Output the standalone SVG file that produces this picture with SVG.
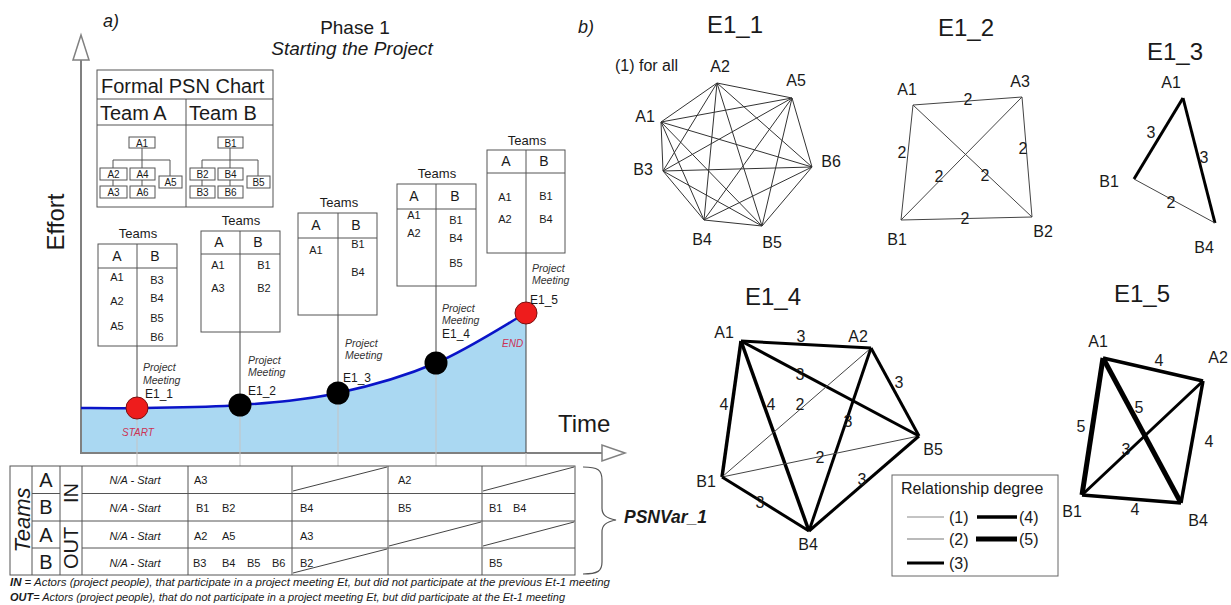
<svg xmlns="http://www.w3.org/2000/svg" width="1231" height="605" viewBox="0 0 1231 605">
<style>
text{font-family:"Liberation Sans",Arial,sans-serif;fill:#1a1a1a}
.tb{fill:none;stroke:#555;stroke-width:1}
.ob{fill:#fff;stroke:#555;stroke-width:1}
.ol{stroke:#555;stroke-width:1;fill:none}
.tl{font-size:13px;text-anchor:middle}
.th{font-size:14px;text-anchor:middle}
.tn{font-size:11px;text-anchor:middle}
.ot{font-size:10px;text-anchor:middle}
.pm{font-size:10.5px;font-style:italic;fill:#333}
.ev{font-size:12px}
.ax{stroke:#808080;stroke-width:2;fill:none}
.vk{stroke:#444;stroke-width:1}
.vg{stroke:#c4c4c4;stroke-width:1}
.na{font-size:11px;font-style:italic;text-anchor:middle}
.ct{font-size:11px}
.big{font-size:20px;text-anchor:middle}
.gt{font-size:24px;text-anchor:middle}
.nl{font-size:16px;text-anchor:middle}
.el{font-size:16px;text-anchor:middle}
.e1{stroke:#333;stroke-width:1}
.e2{stroke:#444;stroke-width:1}
.e3{stroke:#000;stroke-width:3}
.e4{stroke:#000;stroke-width:3.5}
.e5{stroke:#000;stroke-width:5}
.dg{stroke:#444;stroke-width:1}
</style>

<!-- Panel a) titles -->
<text x="103" y="27" style="font-size:18px;font-style:italic">a)</text>
<text x="355" y="34" style="font-size:19px;text-anchor:middle">Phase 1</text>
<text x="352" y="55" style="font-size:19px;font-style:italic;text-anchor:middle">Starting the Project</text>
<text x="578" y="33" style="font-size:18px;font-style:italic">b)</text>

<!-- Area under curve -->
<path d="M81,408 C90.3,408 110.5,408.5 137,408 C163.5,407.5 206.5,407.5 240,405 C273.5,402.5 305.3,400 338,393 C370.7,386 404.7,376.3 436,363 C467.3,349.7 511,321.3 526,313 L526,453 L81,453 Z" fill="#aad8f2"/>

<!-- Axes -->
<g id="axes">
<line class="ax" x1="81" y1="60" x2="81" y2="453"/>
<polygon points="81,35 73,60 89,60" fill="#fff" stroke="#808080" stroke-width="1.5"/>
<line class="ax" x1="80" y1="453" x2="602" y2="453"/>
<polygon points="625,453 602,445 602,461" fill="#fff" stroke="#808080" stroke-width="1.5"/>
<text transform="translate(64,222) rotate(-90)" style="font-size:24px;text-anchor:middle">Effort</text>
<text x="558" y="432" style="font-size:24px">Time</text>
</g>

<!-- Connectors (panel a) -->
<g id="connectors-a">
<line class="vk" x1="137" y1="346" x2="137" y2="408"/>
<line class="vk" x1="240" y1="332" x2="240" y2="405"/>
<line class="vk" x1="338" y1="315" x2="338" y2="393"/>
<line class="vk" x1="436" y1="286" x2="436" y2="363"/>
<line class="vk" x1="526" y1="253" x2="526" y2="453"/>
<line class="vg" x1="137" y1="408" x2="137" y2="466"/>
<line class="vg" x1="240" y1="405" x2="240" y2="466"/>
<line class="vg" x1="338" y1="393" x2="338" y2="466"/>
<line class="vg" x1="436" y1="363" x2="436" y2="466"/>
<line class="vg" x1="526" y1="453" x2="526" y2="466"/>
<path d="M81,408 C90.3,408 110.5,408.5 137,408 C163.5,407.5 206.5,407.5 240,405 C273.5,402.5 305.3,400 338,393 C370.7,386 404.7,376.3 436,363 C467.3,349.7 511,321.3 526,313" fill="none" stroke="#0a14c8" stroke-width="2.5"/>
</g>

<!-- Formal PSN chart -->
<g id="psn-chart">
<rect class="tb" x="97" y="70" width="176" height="137"/>
<line class="tb" x1="97" y1="99" x2="273" y2="99"/>
<line class="tb" x1="97" y1="125" x2="273" y2="125"/>
<line class="tb" x1="186" y1="99" x2="186" y2="207"/>
<text x="101" y="93" style="font-size:20px">Formal PSN Chart</text>
<text x="100" y="120" style="font-size:20px">Team A</text>
<text x="189" y="120" style="font-size:20px">Team B</text>
<path class="ol" d="M142,148 V160 M113,160 H170 M113,160 V168 M142,160 V168 M170,160 V176 M113,180 V186 M142,180 V186"/>
<rect class="ob" x="129" y="137" width="26" height="11"/><text class="ot" x="142" y="146.5">A1</text>
<rect class="ob" x="100" y="168" width="27" height="12"/><text class="ot" x="113.5" y="178">A2</text>
<rect class="ob" x="130" y="168" width="25" height="12"/><text class="ot" x="142.5" y="178">A4</text>
<rect class="ob" x="159" y="176" width="23" height="12"/><text class="ot" x="170.5" y="186">A5</text>
<rect class="ob" x="100" y="186" width="27" height="12"/><text class="ot" x="113.5" y="196">A3</text>
<rect class="ob" x="130" y="186" width="25" height="12"/><text class="ot" x="142.5" y="196">A6</text>
<path class="ol" d="M230,148 V160 M202,160 H258 M202,160 V168 M230,160 V168 M258,160 V176 M202,180 V186 M230,180 V186"/>
<rect class="ob" x="218" y="137" width="25" height="11"/><text class="ot" x="230.5" y="146.5">B1</text>
<rect class="ob" x="190" y="168" width="25" height="12"/><text class="ot" x="202.5" y="178">B2</text>
<rect class="ob" x="218" y="168" width="25" height="12"/><text class="ot" x="230.5" y="178">B4</text>
<rect class="ob" x="247" y="176" width="23" height="12"/><text class="ot" x="258.5" y="186">B5</text>
<rect class="ob" x="190" y="186" width="25" height="12"/><text class="ot" x="202.5" y="196">B3</text>
<rect class="ob" x="218" y="186" width="25" height="12"/><text class="ot" x="230.5" y="196">B6</text>
</g>

<!-- Team tables -->
<g id="teams-e1-1">
<text class="tl" x="138" y="238">Teams</text>
<rect class="tb" x="98" y="244" width="79" height="102"/>
<line class="tb" x1="98" y1="268" x2="177" y2="268"/>
<line class="tb" x1="137" y1="244" x2="137" y2="346"/>
<text class="th" x="117" y="261">A</text><text class="th" x="155" y="261">B</text>
<text class="tn" x="117" y="281">A1</text><text class="tn" x="117" y="305">A2</text><text class="tn" x="117" y="330">A5</text>
<text class="tn" x="157" y="284">B3</text><text class="tn" x="157" y="302">B4</text><text class="tn" x="157" y="322">B5</text><text class="tn" x="157" y="341">B6</text>
</g>
<g id="teams-e1-2">
<text class="tl" x="241" y="225">Teams</text>
<rect class="tb" x="201" y="231" width="79" height="101"/>
<line class="tb" x1="201" y1="254" x2="280" y2="254"/>
<line class="tb" x1="240" y1="231" x2="240" y2="332"/>
<text class="th" x="219" y="247">A</text><text class="th" x="258" y="247">B</text>
<text class="tn" x="218" y="269">A1</text><text class="tn" x="218" y="292">A3</text>
<text class="tn" x="264" y="269">B1</text><text class="tn" x="264" y="292">B2</text>
</g>
<g id="teams-e1-3">
<text class="tl" x="339" y="207">Teams</text>
<rect class="tb" x="298" y="213" width="79" height="102"/>
<line class="tb" x1="298" y1="238" x2="377" y2="238"/>
<line class="tb" x1="338" y1="213" x2="338" y2="315"/>
<text class="th" x="316" y="230">A</text><text class="th" x="356" y="230">B</text>
<text class="tn" x="316" y="254">A1</text>
<text class="tn" x="358" y="248">B1</text><text class="tn" x="358" y="276">B4</text>
</g>
<g id="teams-e1-4">
<text class="tl" x="437" y="178">Teams</text>
<rect class="tb" x="397" y="184" width="79" height="102"/>
<line class="tb" x1="397" y1="209" x2="476" y2="209"/>
<line class="tb" x1="436" y1="184" x2="436" y2="286"/>
<text class="th" x="414" y="201">A</text><text class="th" x="455" y="201">B</text>
<text class="tn" x="414" y="219">A1</text><text class="tn" x="414" y="237">A2</text>
<text class="tn" x="456" y="224">B1</text><text class="tn" x="456" y="242">B4</text><text class="tn" x="456" y="267">B5</text>
</g>
<g id="teams-e1-5">
<text class="tl" x="527" y="145">Teams</text>
<rect class="tb" x="487" y="150" width="78" height="103"/>
<line class="tb" x1="487" y1="173" x2="565" y2="173"/>
<line class="tb" x1="526" y1="150" x2="526" y2="253"/>
<text class="th" x="506" y="166">A</text><text class="th" x="544" y="166">B</text>
<text class="tn" x="505" y="201">A1</text><text class="tn" x="505" y="223">A2</text>
<text class="tn" x="546" y="200">B1</text><text class="tn" x="546" y="223">B4</text>
</g>

<!-- Event nodes -->
<g id="event-e1-1">
<circle cx="137" cy="408" r="11" fill="#ee1c1c" stroke="#7a1010" stroke-width="1"/>
<text class="pm" x="143" y="371">Project</text><text class="pm" x="143" y="384">Meeting</text>
<text class="ev" x="145" y="398">E1_1</text>
<text x="122" y="436" style="font-size:10px;font-style:italic;fill:#cc3355">START</text>
</g>
<g id="event-e1-2">
<circle cx="240" cy="405" r="11.5" fill="#000"/>
<text class="pm" x="248" y="364">Project</text><text class="pm" x="248" y="376">Meeting</text>
<text class="ev" x="248" y="395">E1_2</text>
</g>
<g id="event-e1-3">
<circle cx="338" cy="393" r="11.5" fill="#000"/>
<text class="pm" x="345" y="347">Project</text><text class="pm" x="345" y="359">Meeting</text>
<text class="ev" x="343" y="382">E1_3</text>
</g>
<g id="event-e1-4">
<circle cx="436" cy="363" r="11.5" fill="#000"/>
<text class="pm" x="442" y="312">Project</text><text class="pm" x="442" y="324">Meeting</text>
<text class="ev" x="442" y="338">E1_4</text>
</g>
<g id="event-e1-5">
<circle cx="526" cy="313" r="11" fill="#ee1c1c" stroke="#7a1010" stroke-width="1"/>
<text class="pm" x="532" y="272">Project</text><text class="pm" x="532" y="284">Meeting</text>
<text class="ev" x="530" y="304">E1_5</text>
<text x="502" y="347" style="font-size:10px;font-style:italic;fill:#cc3355">END</text>
</g>

<!-- PSNVar table -->
<g id="psnvar-table">
<rect class="tb" x="10" y="466" width="565" height="109"/>
<path class="tb" d="M32,466 V575 M60,466 V575 M82,466 V575 M188,466 V575 M292,466 V575 M388,466 V575 M482,466 V575"/>
<path class="tb" d="M32,493.5 H60 M82,493.5 H575 M32,521 H575 M32,548 H60 M82,548 H575"/>
<path class="dg" d="M293,491 L387,467 M483,491 L574,467 M389,546 L481,522 M483,546 L574,522 M293,573 L387,549"/>
<text transform="translate(30,520) rotate(-90)" style="font-size:22px;font-style:italic;text-anchor:middle">Teams</text>
<text class="big" x="46" y="487">A</text><text class="big" x="46" y="514">B</text>
<text class="big" x="46" y="542">A</text><text class="big" x="46" y="569">B</text>
<text transform="translate(78,493) rotate(-90)" style="font-size:20px;text-anchor:middle">IN</text>
<text transform="translate(78,548) rotate(-90)" style="font-size:20px;text-anchor:middle">OUT</text>
<text class="na" x="135" y="484">N/A - Start</text>
<text class="na" x="135" y="512">N/A - Start</text>
<text class="na" x="135" y="540">N/A - Start</text>
<text class="na" x="135" y="567">N/A - Start</text>
<text class="ct" x="194" y="484">A3</text>
<text class="ct" x="196" y="512">B1</text><text class="ct" x="222" y="512">B2</text>
<text class="ct" x="194" y="540">A2</text><text class="ct" x="222" y="540">A5</text>
<text class="ct" x="193" y="567">B3</text><text class="ct" x="222" y="567">B4</text><text class="ct" x="247" y="567">B5</text><text class="ct" x="272" y="567">B6</text>
<text class="ct" x="300" y="512">B4</text>
<text class="ct" x="300" y="540">A3</text>
<text class="ct" x="300" y="567">B2</text>
<text class="ct" x="398" y="484">A2</text>
<text class="ct" x="398" y="512">B5</text>
<text class="ct" x="489" y="512">B1</text><text class="ct" x="513" y="512">B4</text>
<text class="ct" x="489" y="567">B5</text>
<path d="M583,467 C598,467 602,470 602,480 L602,508 C602,515 606,518 616,520 C606,522 602,525 602,532 L602,562 C602,571 598,574 583,574" fill="none" stroke="#555" stroke-width="1.2"/>
<text x="624" y="523" style="font-size:17.5px;font-style:italic;font-weight:bold">PSNVar_1</text>
</g>

<!-- Footnotes -->
<text x="10" y="586" textLength="600" lengthAdjust="spacingAndGlyphs" style="font-size:10.5px;font-style:italic"><tspan style="font-weight:bold">IN</tspan> = Actors (project people), that participate in a project meeting Et, but did not participate at the previous Et-1 meeting</text>
<text x="10" y="601" textLength="555" lengthAdjust="spacingAndGlyphs" style="font-size:10.5px;font-style:italic"><tspan style="font-weight:bold">OUT</tspan>=  Actors (project people), that do not participate in a project meeting Et, but did participate at the Et-1 meeting</text>

<!-- ===== Panel b) ===== -->
<text class="gt" x="735" y="33">E1_1</text>
<text class="gt" x="966" y="36">E1_2</text>
<text class="gt" x="1175" y="60">E1_3</text>
<text class="gt" x="773" y="305">E1_4</text>
<text class="gt" x="1142" y="302">E1_5</text>
<text x="615" y="71" style="font-size:16px">(1) for all</text>

<g id="connectors-b">
<!-- E1_1 complete graph -->
<g class="e1">
<line x1="717" y1="83" x2="792" y2="98"/><line x1="717" y1="83" x2="661" y2="122"/><line x1="717" y1="83" x2="812" y2="167"/>
<line x1="717" y1="83" x2="663" y2="171"/><line x1="717" y1="83" x2="704" y2="220"/><line x1="717" y1="83" x2="762" y2="226"/>
<line x1="792" y1="98" x2="661" y2="122"/><line x1="792" y1="98" x2="812" y2="167"/><line x1="792" y1="98" x2="663" y2="171"/>
<line x1="792" y1="98" x2="704" y2="220"/><line x1="792" y1="98" x2="762" y2="226"/>
<line x1="661" y1="122" x2="812" y2="167"/><line x1="661" y1="122" x2="663" y2="171"/><line x1="661" y1="122" x2="704" y2="220"/><line x1="661" y1="122" x2="762" y2="226"/>
<line x1="812" y1="167" x2="663" y2="171"/><line x1="812" y1="167" x2="704" y2="220"/><line x1="812" y1="167" x2="762" y2="226"/>
<line x1="663" y1="171" x2="704" y2="220"/><line x1="663" y1="171" x2="762" y2="226"/>
<line x1="704" y1="220" x2="762" y2="226"/>
</g>
<!-- E1_2 -->
<g class="e2">
<line x1="913" y1="105" x2="1022" y2="97"/><line x1="913" y1="105" x2="901" y2="220"/><line x1="913" y1="105" x2="1032" y2="217"/>
<line x1="1022" y1="97" x2="1032" y2="217"/><line x1="1022" y1="97" x2="901" y2="220"/><line x1="901" y1="220" x2="1032" y2="217"/>
</g>
<!-- E1_3 -->
<line class="e3" x1="1183" y1="98" x2="1134" y2="179"/>
<line class="e3" x1="1183" y1="98" x2="1215" y2="223"/>
<line class="e2" x1="1134" y1="179" x2="1215" y2="223"/>
<!-- E1_4 -->
<line class="e3" x1="741" y1="341" x2="871" y2="348"/>
<line class="e3" x1="741" y1="341" x2="919" y2="436"/>
<line class="e4" x1="741" y1="341" x2="722" y2="477"/>
<line class="e4" x1="741" y1="341" x2="809" y2="531"/>
<line class="e2" x1="871" y1="348" x2="722" y2="477"/>
<line class="e3" x1="871" y1="348" x2="809" y2="531"/>
<line class="e3" x1="871" y1="348" x2="919" y2="436"/>
<line class="e2" x1="722" y1="477" x2="919" y2="436"/>
<line class="e3" x1="722" y1="477" x2="809" y2="531"/>
<line class="e3" x1="809" y1="531" x2="919" y2="436"/>
<!-- E1_5 -->
<line class="e4" x1="1103" y1="358" x2="1203" y2="381"/>
<line class="e5" x1="1103" y1="358" x2="1082" y2="495"/>
<line class="e5" x1="1103" y1="358" x2="1181" y2="503"/>
<line class="e3" x1="1203" y1="381" x2="1082" y2="495"/>
<line class="e4" x1="1203" y1="381" x2="1181" y2="503"/>
<line class="e4" x1="1082" y1="495" x2="1181" y2="503"/>
</g>

<g id="edge-labels">
<text class="el" x="968" y="105">2</text><text class="el" x="902" y="158">2</text><text class="el" x="1023" y="154">2</text>
<text class="el" x="939" y="182">2</text><text class="el" x="985" y="181">2</text><text class="el" x="965" y="224">2</text>
<text class="el" x="1151" y="138">3</text><text class="el" x="1204" y="163">3</text><text class="el" x="1171" y="208">2</text>
<text class="el" x="801" y="342">3</text><text class="el" x="800" y="380">3</text><text class="el" x="724" y="410">4</text>
<text class="el" x="771" y="410">4</text><text class="el" x="800" y="410">2</text><text class="el" x="848" y="427">3</text>
<text class="el" x="899" y="388">3</text><text class="el" x="820" y="463">2</text><text class="el" x="760" y="508">3</text>
<text class="el" x="862" y="485">3</text>
<text class="el" x="1159" y="366">4</text><text class="el" x="1081" y="432">5</text><text class="el" x="1139" y="413">5</text>
<text class="el" x="1126" y="455">3</text><text class="el" x="1209" y="447">4</text><text class="el" x="1135" y="515">4</text>
</g>

<!-- Graph nodes -->
<g id="e11-A2"><text class="nl" x="720" y="72">A2</text></g>
<g id="e11-A5"><text class="nl" x="796" y="86">A5</text></g>
<g id="e11-A1"><text class="nl" x="645" y="122">A1</text></g>
<g id="e11-B6"><text class="nl" x="831" y="167">B6</text></g>
<g id="e11-B3"><text class="nl" x="643" y="175">B3</text></g>
<g id="e11-B4"><text class="nl" x="702" y="245">B4</text></g>
<g id="e11-B5"><text class="nl" x="772" y="248">B5</text></g>

<g id="e12-A1"><text class="nl" x="907" y="95">A1</text></g>
<g id="e12-A3"><text class="nl" x="1020" y="87">A3</text></g>
<g id="e12-B1"><text class="nl" x="897" y="245">B1</text></g>
<g id="e12-B2"><text class="nl" x="1043" y="237">B2</text></g>

<g id="e13-A1"><text class="nl" x="1171" y="88">A1</text></g>
<g id="e13-B1"><text class="nl" x="1109" y="187">B1</text></g>
<g id="e13-B4"><text class="nl" x="1204" y="253">B4</text></g>

<g id="e14-A1"><text class="nl" x="724" y="338">A1</text></g>
<g id="e14-A2"><text class="nl" x="858" y="342">A2</text></g>
<g id="e14-B5"><text class="nl" x="933" y="455">B5</text></g>
<g id="e14-B1"><text class="nl" x="706" y="487">B1</text></g>
<g id="e14-B4"><text class="nl" x="808" y="550">B4</text></g>

<g id="e15-A1"><text class="nl" x="1098" y="347">A1</text></g>
<g id="e15-A2"><text class="nl" x="1218" y="363">A2</text></g>
<g id="e15-B1"><text class="nl" x="1072" y="517">B1</text></g>
<g id="e15-B4"><text class="nl" x="1198" y="526">B4</text></g>

<!-- Legend -->
<g id="legend">
<rect x="892" y="475" width="166" height="101" fill="#fff" stroke="#666" stroke-width="1"/>
<text x="901" y="494" style="font-size:16px">Relationship degree</text>
<line x1="907" y1="517" x2="944" y2="517" stroke="#888" stroke-width="1"/>
<text x="949" y="523" style="font-size:16px">(1)</text>
<line x1="977" y1="517" x2="1017" y2="517" stroke="#000" stroke-width="3.5"/>
<text x="1019" y="523" style="font-size:16px">(4)</text>
<line x1="907" y1="539" x2="944" y2="539" stroke="#777" stroke-width="1.2"/>
<text x="949" y="545" style="font-size:16px">(2)</text>
<line x1="976" y1="539" x2="1017" y2="539" stroke="#000" stroke-width="5"/>
<text x="1019" y="545" style="font-size:16px">(5)</text>
<line x1="907" y1="563" x2="944" y2="563" stroke="#000" stroke-width="3"/>
<text x="949" y="569" style="font-size:16px">(3)</text>
</g>
</svg>
